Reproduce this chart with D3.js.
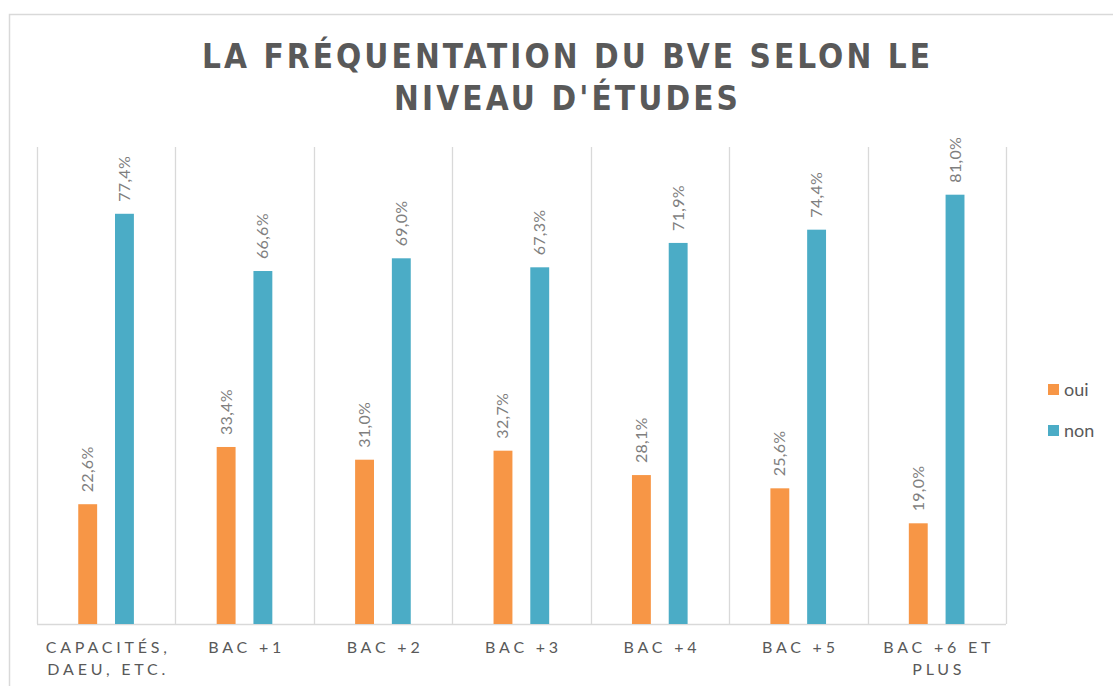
<!DOCTYPE html>
<html><head><meta charset="utf-8">
<script src="https://cdn.jsdelivr.net/npm/d3@7"></script>
<style>body{margin:0;background:#fff;} svg{display:block;font-family:Lato,"Open Sans",sans-serif;}</style>
</head><body><svg id="c" width="1113" height="686"></svg>
<script>
const categories = [["CAPACITÉS,","DAEU, ETC."],["BAC +1"],["BAC +2"],["BAC +3"],["BAC +4"],["BAC +5"],["BAC +6 ET","PLUS"]];
const seriesNames = ["oui","non"];
const ouiValues = [22.6, 33.4, 31.0, 32.7, 28.1, 25.6, 19.0];
const nonValues = [77.4, 66.6, 69.0, 67.3, 71.9, 74.4, 81.0];
const titleLines = ["LA FRÉQUENTATION DU BVE SELON LE", "NIVEAU D'ÉTUDES"];
const colors = {oui:"#F79646", non:"#4BACC6"};
const yMax = 90;

const svg = d3.select("#c");
// frame
svg.append("path").attr("d","M9.5,686 L9.5,14.5 L1113,14.5").attr("fill","none").attr("stroke","#d9d9d9").attr("stroke-width",1.5);

const pL=37, pR=1006, pT=147, pB=624;
const x0 = d3.scaleBand().domain(d3.range(categories.length)).range([pL,pR]).padding(0);
const x1 = d3.scaleBand().domain(seriesNames).range([x0.bandwidth()*0.298, x0.bandwidth()*0.70]).paddingInner(0.486);
const y = d3.scaleLinear().domain([0,yMax]).range([pB,pT]);

// gridlines at category boundaries
const bounds = d3.range(categories.length+1).map(i=> i<categories.length ? x0(i) : pR);
svg.append("g").selectAll("line").data(bounds).join("line")
  .attr("x1",d=>Math.round(d)+0.5).attr("x2",d=>Math.round(d)+0.5).attr("y1",pT).attr("y2",pB)
  .attr("stroke","#d9d9d9").attr("stroke-width",1.3);
svg.append("line").attr("x1",pL).attr("x2",pR).attr("y1",pB+0.5).attr("y2",pB+0.5).attr("stroke","#d9d9d9").attr("stroke-width",1.5);

const data = categories.map((c,i)=>({i, vals:[{k:"oui",v:ouiValues[i]},{k:"non",v:nonValues[i]}]}));
const g = svg.append("g").selectAll("g").data(data).join("g").attr("transform",d=>`translate(${x0(d.i)},0)`);
g.selectAll("rect").data(d=>d.vals).join("rect")
  .attr("x",d=>x1(d.k)).attr("width",x1.bandwidth())
  .attr("y",d=>y(d.v)).attr("height",d=>pB-y(d.v)).attr("fill",d=>colors[d.k]);
g.selectAll("text").data(d=>d.vals).join("text")
  .attr("transform",d=>`translate(${x1(d.k)+x1.bandwidth()/2+5.5},${y(d.v)-12}) rotate(-90)`)
  .attr("font-size",16).attr("fill","#7f7f7f").attr("letter-spacing","0.3px")
  .text(d=>d.v.toFixed(1).replace(".",",")+"%");

// category labels
const xl = svg.append("g").selectAll("text").data(categories).join("text")
  .attr("text-anchor","middle").attr("font-size",16).attr("fill","#595959").attr("letter-spacing","3.8px");
xl.selectAll("tspan").data((d,i)=>d.map((t,j)=>({t,j,i}))).join("tspan")
  .attr("x",d=>x0(d.i)+x0.bandwidth()/2+2).attr("y",d=>653+d.j*22).text(d=>d.t);

// title
svg.append("g").selectAll("text").data(titleLines).join("text")
  .attr("x",566).attr("y",(d,i)=>68+i*42).attr("text-anchor","middle")
  .attr("font-family","'DejaVu Sans Condensed','DejaVu Sans',sans-serif").attr("font-stretch","condensed")
  .attr("font-size",33).attr("font-weight","bold").attr("fill","#595959")
  .attr("textLength",(d,i)=>i===0?728:344).attr("lengthAdjust","spacing").text(d=>d);

// legend
const lg = svg.append("g").selectAll("g").data(seriesNames).join("g").attr("transform",(d,i)=>`translate(1048,${384+i*41})`);
lg.append("rect").attr("width",11).attr("height",11).attr("fill",d=>colors[d]);
lg.append("text").attr("x",16).attr("y",12).attr("font-size",18).attr("fill","#595959").text(d=>d);
</script></body></html>
